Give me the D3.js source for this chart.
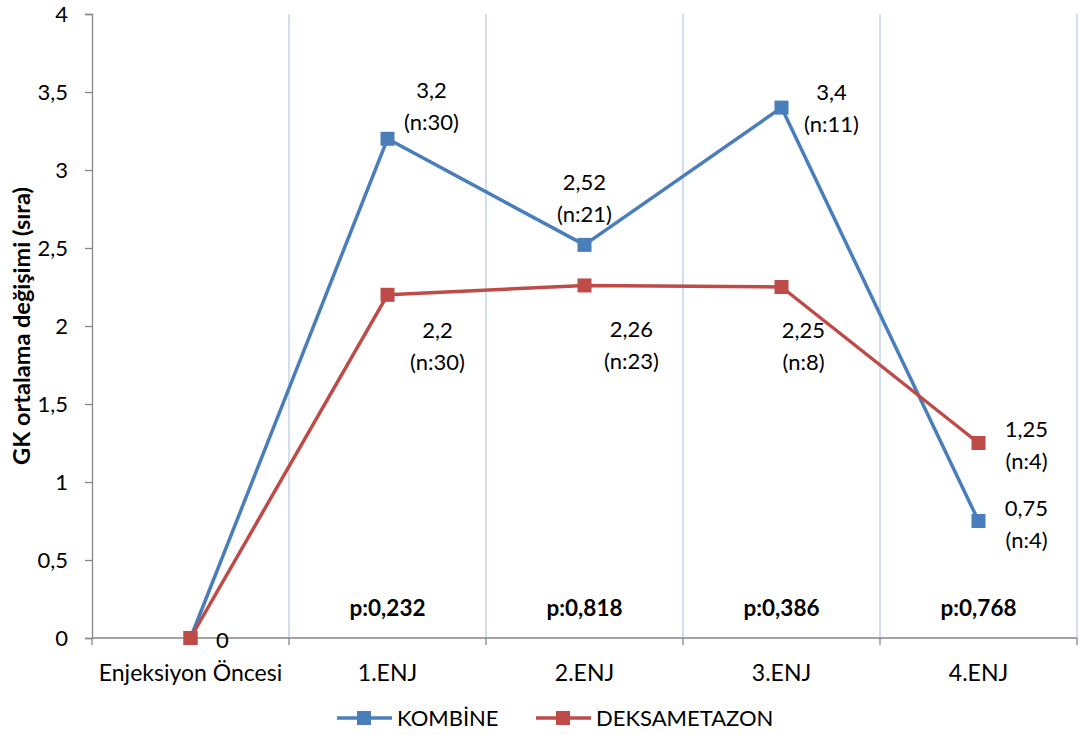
<!DOCTYPE html>
<html>
<head>
<meta charset="utf-8">
<script src="https://cdn.jsdelivr.net/npm/d3@7"></script>
<style>
  html, body { margin: 0; padding: 0; background: #fff; }
  svg text { font-family: Lato, "Open Sans", sans-serif; fill: #000; }
</style>
</head>
<body>
<svg id="chart" width="1080" height="735"></svg>
<script>
// Categories and series
const categories = ["Enjeksiyon Öncesi", "1.ENJ", "2.ENJ", "3.ENJ", "4.ENJ"];
const kombine = [0, 3.2, 2.52, 3.4, 0.75];
const deksametazon = [0, 2.2, 2.26, 2.25, 1.25];
const kombineN = [null, 30, 21, 11, 4];
const deksametazonN = [null, 30, 23, 8, 4];
const pValues = [null, "0,232", "0,818", "0,386", "0,768"];
const yTicks = [0, 0.5, 1, 1.5, 2, 2.5, 3, 3.5, 4];
const seriesNames = ["KOMBİNE", "DEKSAMETAZON"];

const svg = d3.select("#chart");
const margin = { left: 92, right: 3, top: 14, bottom: 97 };
const W = 1080, H = 735;
const plotW = W - margin.left - margin.right;
const plotH = H - margin.top - margin.bottom;
const FS = "22px";

const x = d3.scaleBand().domain(categories).range([margin.left, margin.left + plotW]);
const y = d3.scaleLinear().domain([0, 4]).range([margin.top + plotH, margin.top]);
const fmt = v => String(v).replace(".", ",");
const cx = c => x(c) + x.bandwidth() / 2;

const colors = { blue: "#4a7ebb", red: "#be4b48" };

// vertical gridlines at category boundaries
const bounds = categories.map(c => x(c) + x.bandwidth());
svg.append("g").selectAll("line").data(bounds).join("line")
  .attr("x1", d => d).attr("x2", d => d)
  .attr("y1", y(4)).attr("y2", y(0))
  .attr("stroke", "#b9cde8").attr("stroke-width", 1.3);

// y axis
const yAxis = d3.axisLeft(y).tickValues(yTicks).tickFormat(fmt).tickSize(7).tickPadding(17);
const gy = svg.append("g").attr("transform", `translate(${margin.left},0)`).call(yAxis);
gy.select(".domain").attr("stroke", "#868686").attr("stroke-width", 1.3);
gy.selectAll(".tick line").attr("stroke", "#868686").attr("stroke-width", 1.3);
gy.selectAll(".tick text").style("font-size", FS).attr("dy", "0.35em");

// x axis
const gx = svg.append("g").attr("transform", `translate(0,${y(0)})`);
gx.append("line").attr("x1", margin.left).attr("x2", margin.left + plotW)
  .attr("stroke", "#868686").attr("stroke-width", 1.3);
gx.selectAll("line.tk").data([margin.left, ...bounds]).join("line").attr("class", "tk")
  .attr("x1", d => d).attr("x2", d => d).attr("y1", 0).attr("y2", 7)
  .attr("stroke", "#868686").attr("stroke-width", 1.3);
gx.selectAll("text").data(categories).join("text")
  .attr("x", d => cx(d)).attr("y", 43)
  .attr("text-anchor", "middle").style("font-size", "23px").text(d => d);

// y axis title
svg.append("text")
  .attr("transform", `translate(30,${margin.top + plotH / 2}) rotate(-90)`)
  .attr("text-anchor", "middle").style("font-size", "23.5px").style("font-weight", "bold")
  .text("GK ortalama değişimi (sıra)");

// series
const line = d3.line().x((d, i) => cx(categories[i])).y(d => y(d));
const series = [
  { name: seriesNames[0], values: kombine, color: colors.blue },
  { name: seriesNames[1], values: deksametazon, color: colors.red }
];
series.forEach(s => {
  svg.append("path").datum(s.values).attr("d", line)
    .attr("fill", "none").attr("stroke", s.color).attr("stroke-width", 3.5)
    .attr("stroke-linejoin", "round");
  svg.append("g").selectAll("rect").data(s.values).join("rect")
    .attr("x", (d, i) => cx(categories[i]) - 7).attr("y", d => y(d) - 7)
    .attr("width", 14).attr("height", 14).attr("fill", s.color);
});

// data labels (offsets relative to each point: dx, dy of first line)
const blueOffsets = [null, [44, -41], [0, -55], [50, -8], [48, -5]];
const redOffsets = [[32, 10], [50, 43], [47, 52], [22, 51], [48, -6]];
function labels(values, ns, offsets) {
  values.forEach((v, i) => {
    const o = offsets[i];
    if (!o) return;
    const px = cx(categories[i]) + o[0], py = y(v) + o[1];
    const t = svg.append("text").attr("text-anchor", "middle").style("font-size", FS);
    t.append("tspan").attr("x", px).attr("y", py).text(fmt(v));
    if (ns[i] != null) t.append("tspan").attr("x", px).attr("y", py + 32).text(`(n:${ns[i]})`);
  });
}
labels(kombine, kombineN, blueOffsets);
labels(deksametazon, deksametazonN, redOffsets);

// p-values
svg.append("g").selectAll("text").data(pValues.map((p, i) => [p, categories[i]]).filter(d => d[0]))
  .join("text")
  .attr("x", d => cx(d[1])).attr("y", y(0) - 22)
  .attr("text-anchor", "middle").style("font-size", "22.5px").style("font-weight", "bold")
  .text(d => `p:${d[0]}`);

// legend
const legendY = 718;
const legendItems = [
  { name: seriesNames[0], color: colors.blue, x: 337 },
  { name: seriesNames[1], color: colors.red, x: 536 }
];
legendItems.forEach(l => {
  svg.append("line").attr("x1", l.x).attr("x2", l.x + 55).attr("y1", legendY).attr("y2", legendY)
    .attr("stroke", l.color).attr("stroke-width", 3.5);
  svg.append("rect").attr("x", l.x + 20).attr("y", legendY - 7).attr("width", 14).attr("height", 14)
    .attr("fill", l.color);
  svg.append("text").attr("x", l.x + 60).attr("y", legendY).attr("dy", "0.35em")
    .style("font-size", FS).text(l.name);
});
</script>
</body>
</html>
